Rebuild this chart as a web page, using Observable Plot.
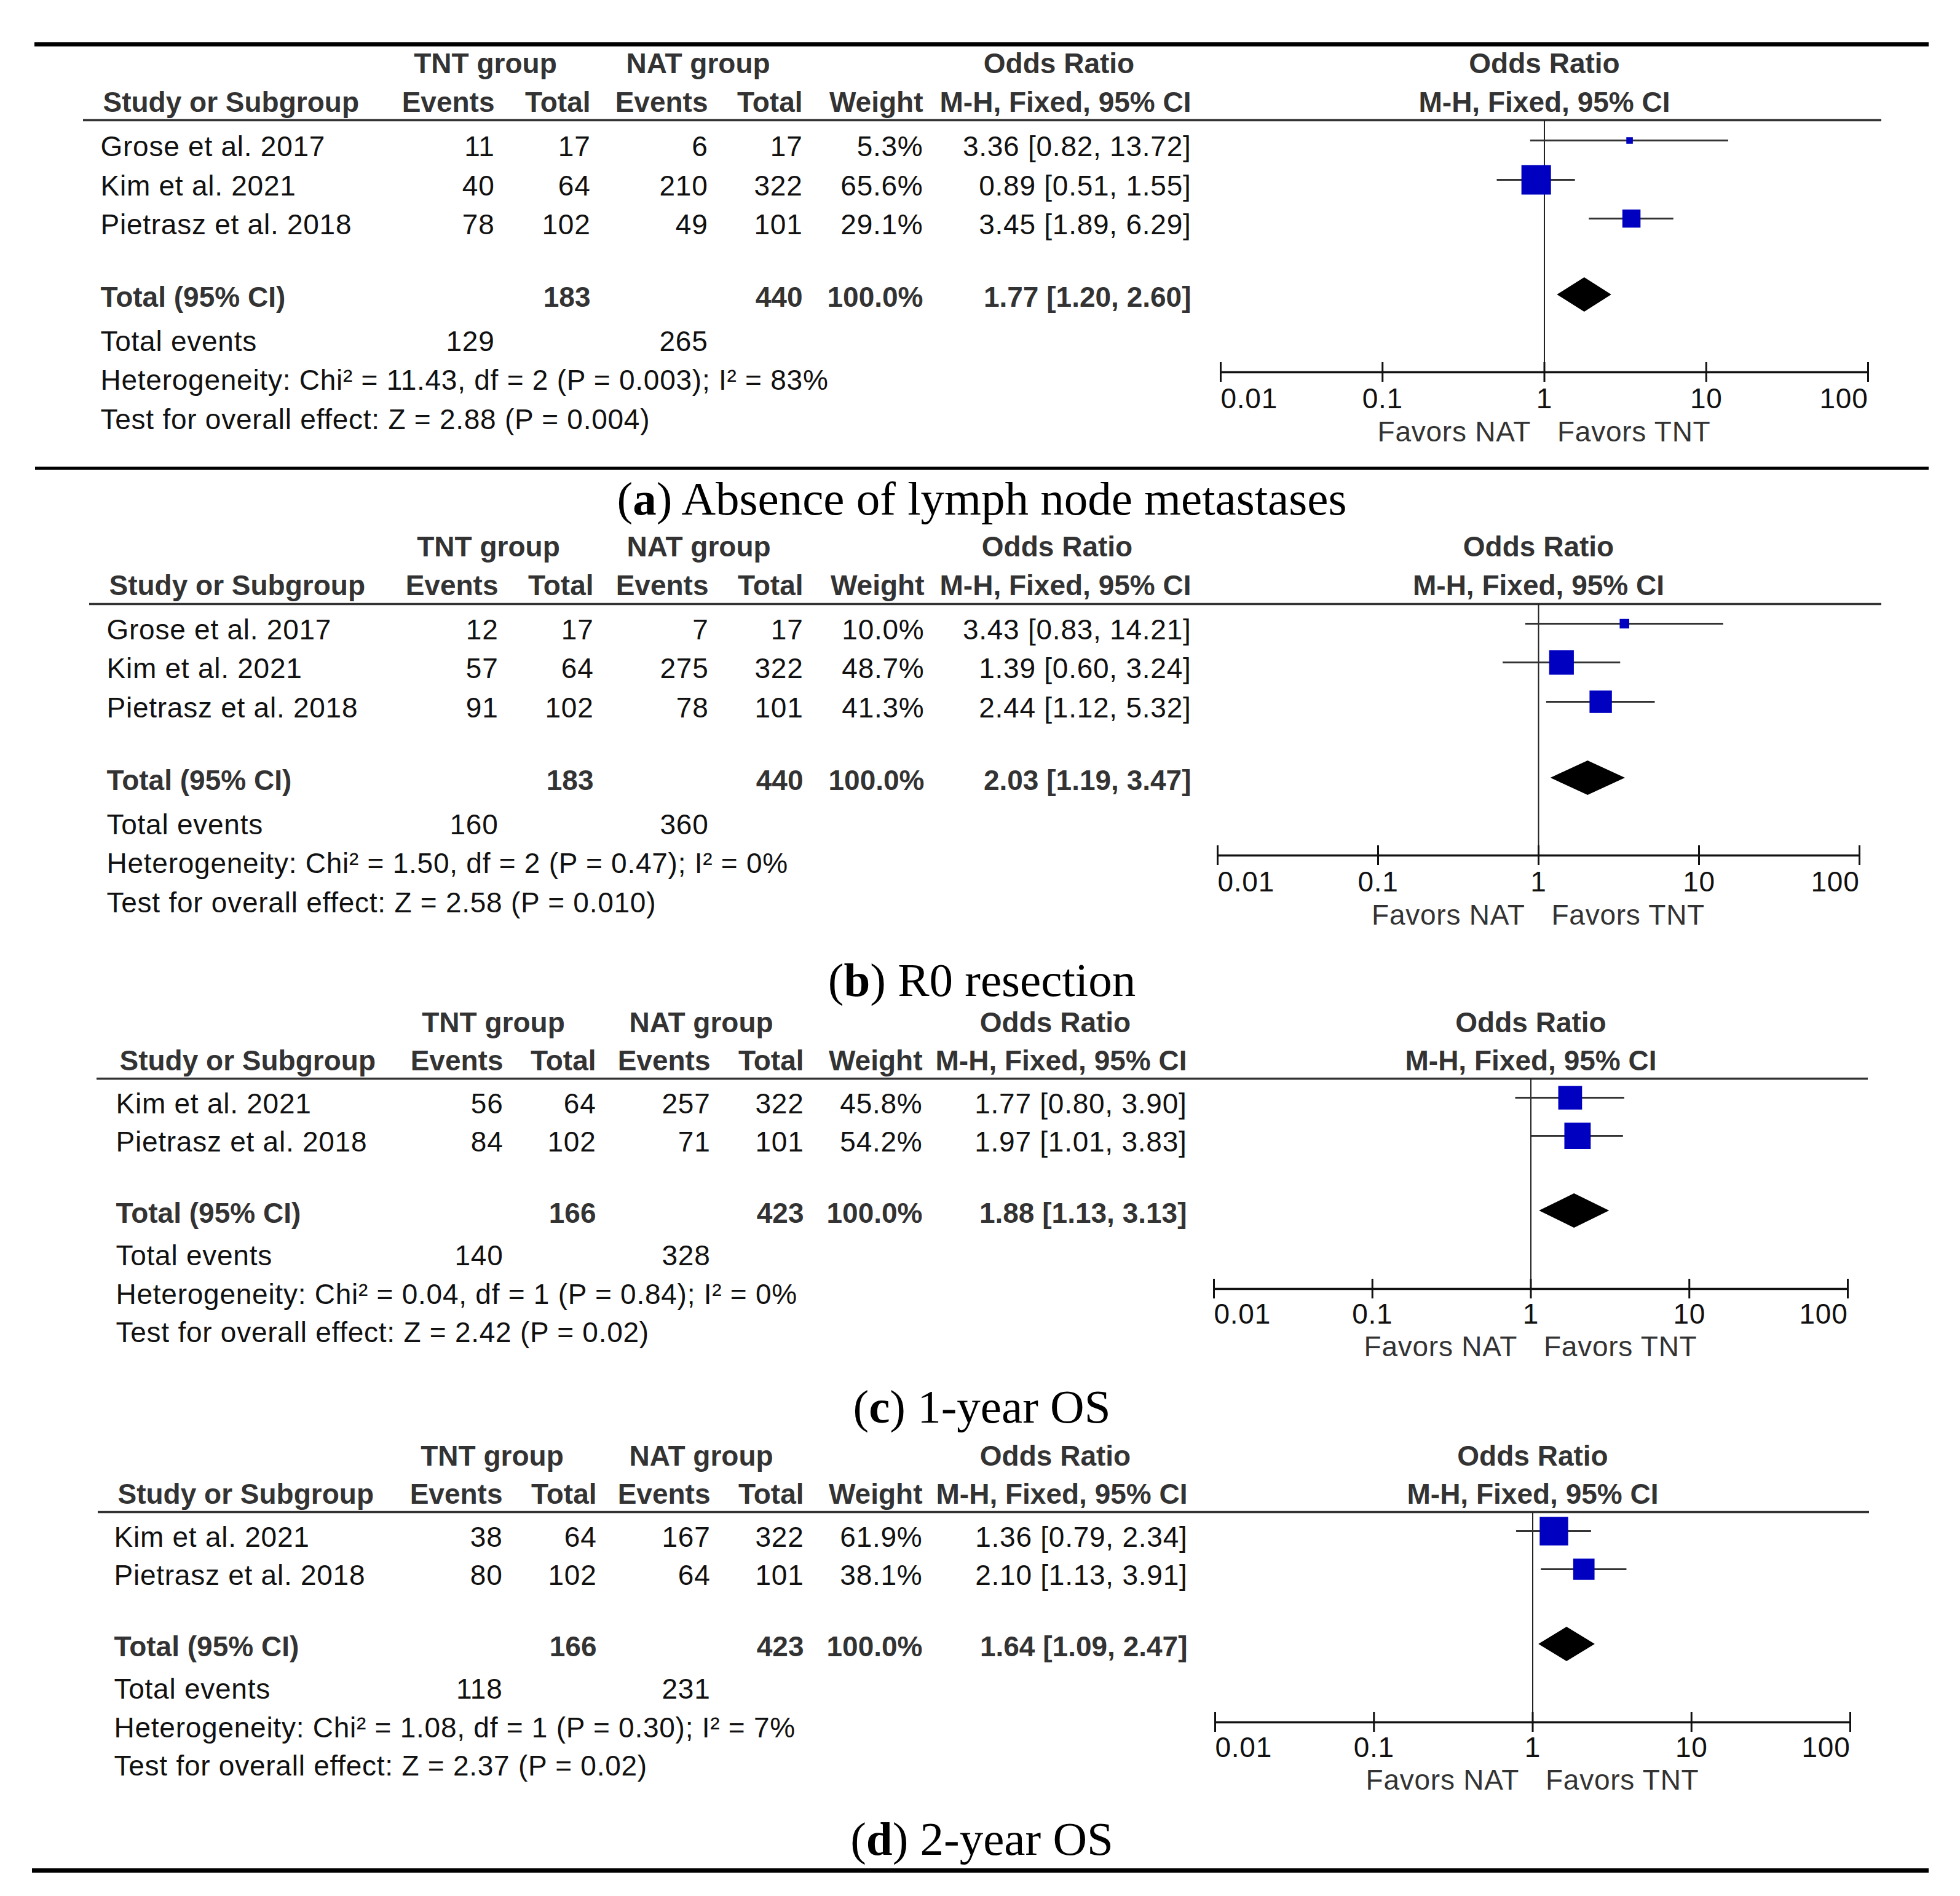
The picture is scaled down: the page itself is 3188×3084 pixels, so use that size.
<!DOCTYPE html>
<html>
<head>
<meta charset="utf-8">
<script src="https://cdn.jsdelivr.net/npm/d3@7"></script>
<script src="https://cdn.jsdelivr.net/npm/@observablehq/plot@0.6"></script>
<style>
html, body { margin: 0; padding: 0; background: #fff; }
#page { position: relative; width: 3188px; height: 3084px; background: #fff; overflow: hidden; }
#page svg { position: absolute; left: 0; overflow: visible; }
#page g[font-weight="normal"] { letter-spacing: 0.75px; }
.caption { position: absolute; left: 0; width: 3194px; text-align: center;
  font-family: "Liberation Serif", "Times New Roman", serif; font-size: 77px; line-height: 77px; color: #000; }
</style>
</head>
<body>
<div id="page"></div>
<script>
// ---------------- DATA ----------------
const panelLetters = ["a", "b", "c", "d"];
const panelTitles = ["Absence of lymph node metastases", "R0 resection", "1-year OS", "2-year OS"];
const studyNames = [
  ["Grose et al. 2017", "Kim et al. 2021", "Pietrasz et al. 2018"],
  ["Grose et al. 2017", "Kim et al. 2021", "Pietrasz et al. 2018"],
  ["Kim et al. 2021", "Pietrasz et al. 2018"],
  ["Kim et al. 2021", "Pietrasz et al. 2018"]
];
const tntEvents = [[11, 40, 78], [12, 57, 91], [56, 84], [38, 80]];
const tntTotals = [[17, 64, 102], [17, 64, 102], [64, 102], [64, 102]];
const natEvents = [[6, 210, 49], [7, 275, 78], [257, 71], [167, 64]];
const natTotals = [[17, 322, 101], [17, 322, 101], [322, 101], [322, 101]];
const weights = [[5.3, 65.6, 29.1], [10.0, 48.7, 41.3], [45.8, 54.2], [61.9, 38.1]];
const oddsRatios = [[3.36, 0.89, 3.45], [3.43, 1.39, 2.44], [1.77, 1.97], [1.36, 2.10]];
const ciLower = [[0.82, 0.51, 1.89], [0.83, 0.60, 1.12], [0.80, 1.01], [0.79, 1.13]];
const ciUpper = [[13.72, 1.55, 6.29], [14.21, 3.24, 5.32], [3.90, 3.83], [2.34, 3.91]];
const totalTnt = [183, 183, 166, 166];
const totalNat = [440, 440, 423, 423];
const totalWeight = [100.0, 100.0, 100.0, 100.0];
const pooledOR = [1.77, 2.03, 1.88, 1.64];
const pooledLower = [1.20, 1.19, 1.13, 1.09];
const pooledUpper = [2.60, 3.47, 3.13, 2.47];
const totalEventsTnt = [129, 160, 140, 118];
const totalEventsNat = [265, 360, 328, 231];
const chiSquared = ["11.43", "1.50", "0.04", "1.08"];
const degreesFreedom = [2, 2, 1, 1];
const pHeterogeneity = ["0.003", "0.47", "0.84", "0.30"];
const iSquared = [83, 0, 0, 7];
const zValues = ["2.88", "2.58", "2.42", "2.37"];
const pOverall = ["0.004", "0.010", "0.02", "0.02"];
const axisTicks = [0.01, 0.1, 1, 10, 100];
const axisTickLabels = ["0.01", "0.1", "1", "10", "100"];
const groupHeaders = ["TNT group", "NAT group", "Odds Ratio"];
const columnHeaders = ["Events", "Total", "Events", "Total", "Weight", "M-H, Fixed, 95% CI"];
const firstColumnHeader = "Study or Subgroup";
const forestHeaders = ["Odds Ratio", "M-H, Fixed, 95% CI"];
const favorLabels = ["Favors NAT", "Favors TNT"];

// ---------------- LAYOUT (page pixels) ----------------
const layouts = [
  { textX: 163, headX: 167, cols: [804, 960, 1151, 1305, 1501, 1937], groupX: [789, 1135, 1722],
    ruleX: [135, 3060], forestRange: [1985, 3038],
    yHead: [118, 181], yRule: 195, yRows: [253, 317, 380], yTotal: 498, yEvents: 570, yHet: 633, yTest: 697,
    yAxis: 605, yTickLabel: 663, yFavors: 717 },
  { textX: 173, headX: 177, cols: [810, 965, 1152, 1306, 1503, 1937], groupX: [794, 1136, 1719],
    ruleX: [145, 3060], forestRange: [1980, 3024],
    yHead: [904, 967], yRule: 982, yRows: [1039, 1102, 1166], yTotal: 1284, yEvents: 1356, yHet: 1419, yTest: 1483,
    yAxis: 1391, yTickLabel: 1449, yFavors: 1503 },
  { textX: 188, headX: 194, cols: [818, 969, 1155, 1307, 1500, 1930], groupX: [802, 1140, 1716],
    ruleX: [157, 3038], forestRange: [1974, 3005],
    yHead: [1678, 1740], yRule: 1754, yRows: [1810, 1872], yTotal: 1988, yEvents: 2057, yHet: 2120, yTest: 2182,
    yAxis: 2096, yTickLabel: 2152, yFavors: 2205 },
  { textX: 185, headX: 191, cols: [817, 970, 1155, 1307, 1500, 1931], groupX: [800, 1140, 1716],
    ruleX: [159, 3040], forestRange: [1976, 3009],
    yHead: [2383, 2445], yRule: 2459, yRows: [2515, 2577], yTotal: 2693, yEvents: 2762, yHet: 2825, yTest: 2887,
    yAxis: 2801, yTickLabel: 2857, yFavors: 2910 }
];
const captionBaselines = [837, 1620, 2314, 3017];
const pageRules = [ // y, x1, x2, thickness
  { y: 71.5, x1: 56, x2: 3137, w: 7 },
  { y: 761, x1: 57, x2: 3137, w: 5 },
  { y: 3042, x1: 52, x2: 3137, w: 7 }
];

const FONT = '"Liberation Sans", Arial, Helvetica, sans-serif';
const FS = 46;
const INK = "#111";
const HEAD = "#333";
const BOX = "#0000c0";
const BOX_LIFT = 25;
const DIAMOND_LIFT = 19;
const DIAMOND_HALF = 28;
const W = 3188, H = 3084;

const page = document.getElementById("page");

function textMarks(records) {
  const marks = [];
  for (const anchor of ["start", "middle", "end"]) {
    for (const weight of ["normal", "bold"]) {
      const data = records.filter(r => r.anchor === anchor && r.weight === weight);
      if (!data.length) continue;
      marks.push(Plot.text(data, {
        x: "x", y: "y", text: "text", textAnchor: anchor, lineAnchor: "bottom",
        fontSize: FS, fontFamily: FONT, fontWeight: weight,
        fill: weight === "bold" ? HEAD : INK
      }));
    }
  }
  return marks;
}

function frame(L) {
  const top = L.yHead[0] - 75;
  const height = L.yFavors + 45 - top;
  return { top, height };
}

// ---------- page rules ----------
const rulesPlot = Plot.plot({
  width: W, height: H, margin: 0,
  x: { type: "linear", domain: [0, W], range: [0, W], axis: null },
  y: { type: "linear", domain: [0, H], range: [0, H], axis: null },
  style: { background: "transparent" },
  marks: [
    Plot.ruleY(pageRules, { y: "y", x1: "x1", x2: "x2", strokeWidth: d => d.w, stroke: "#000" })
  ]
});
rulesPlot.style.top = "0px";
page.appendChild(rulesPlot);

// ---------- panels ----------
panelLetters.forEach((letter, i) => {
  const L = layouts[i];
  const { top, height } = frame(L);
  const rec = [];
  groupHeaders.forEach((t, k) => rec.push({ x: L.groupX[k], y: L.yHead[0], text: t, anchor: "middle", weight: "bold" }));
  rec.push({ x: L.headX, y: L.yHead[1], text: firstColumnHeader, anchor: "start", weight: "bold" });
  columnHeaders.forEach((t, k) => rec.push({ x: L.cols[k], y: L.yHead[1], text: t, anchor: "end", weight: "bold" }));
  studyNames[i].forEach((name, j) => {
    const y = L.yRows[j];
    rec.push({ x: L.textX, y, text: name, anchor: "start", weight: "normal" });
    const vals = [
      String(tntEvents[i][j]), String(tntTotals[i][j]),
      String(natEvents[i][j]), String(natTotals[i][j]),
      weights[i][j].toFixed(1) + "%",
      `${oddsRatios[i][j].toFixed(2)} [${ciLower[i][j].toFixed(2)}, ${ciUpper[i][j].toFixed(2)}]`
    ];
    vals.forEach((t, k) => rec.push({ x: L.cols[k], y, text: t, anchor: "end", weight: "normal" }));
  });
  rec.push({ x: L.textX, y: L.yTotal, text: "Total (95% CI)", anchor: "start", weight: "bold" });
  rec.push({ x: L.cols[1], y: L.yTotal, text: String(totalTnt[i]), anchor: "end", weight: "bold" });
  rec.push({ x: L.cols[3], y: L.yTotal, text: String(totalNat[i]), anchor: "end", weight: "bold" });
  rec.push({ x: L.cols[4], y: L.yTotal, text: totalWeight[i].toFixed(1) + "%", anchor: "end", weight: "bold" });
  rec.push({ x: L.cols[5], y: L.yTotal,
    text: `${pooledOR[i].toFixed(2)} [${pooledLower[i].toFixed(2)}, ${pooledUpper[i].toFixed(2)}]`, anchor: "end", weight: "bold" });
  rec.push({ x: L.textX, y: L.yEvents, text: "Total events", anchor: "start", weight: "normal" });
  rec.push({ x: L.cols[0], y: L.yEvents, text: String(totalEventsTnt[i]), anchor: "end", weight: "normal" });
  rec.push({ x: L.cols[2], y: L.yEvents, text: String(totalEventsNat[i]), anchor: "end", weight: "normal" });
  rec.push({ x: L.textX, y: L.yHet, anchor: "start", weight: "normal",
    text: `Heterogeneity: Chi\u00B2 = ${chiSquared[i]}, df = ${degreesFreedom[i]} (P = ${pHeterogeneity[i]}); I\u00B2 = ${iSquared[i]}%` });
  rec.push({ x: L.textX, y: L.yTest, anchor: "start", weight: "normal",
    text: `Test for overall effect: Z = ${zValues[i]} (P = ${pOverall[i]})` });

  const tablePlot = Plot.plot({
    width: W, height, margin: 0,
    x: { type: "linear", domain: [0, W], range: [0, W], axis: null },
    y: { type: "linear", domain: [top, top + height], range: [0, height], axis: null },
    style: { background: "transparent" },
    marks: [
      Plot.ruleY([L.yRule], { y: d => d, x1: () => L.ruleX[0], x2: () => L.ruleX[1], stroke: "#333", strokeWidth: 3.5 }),
      ...textMarks(rec)
    ]
  });
  tablePlot.style.top = top + "px";
  page.appendChild(tablePlot);

  const studies = studyNames[i].map((name, j) => ({
    name, or: oddsRatios[i][j], lo: ciLower[i][j], hi: ciUpper[i][j], w: weights[i][j], y: L.yRows[j] - BOX_LIFT
  }));
  const yD = L.yTotal - DIAMOND_LIFT;
  const diamond = [
    { x: pooledLower[i], y1: yD, y2: yD },
    { x: pooledOR[i], y1: yD - DIAMOND_HALF, y2: yD + DIAMOND_HALF },
    { x: pooledUpper[i], y1: yD, y2: yD }
  ];
  const tickData = axisTicks.map((t, k) => ({ x: t, label: axisTickLabels[k], k }));
  const last = axisTicks.length - 1;
  const tickText = (data, anchor) => Plot.text(data, {
    x: "x", y: () => L.yTickLabel, text: "label", textAnchor: anchor, lineAnchor: "bottom",
    fontSize: FS, fontFamily: FONT, fontWeight: "normal", fill: INK
  });

  const forestPlot = Plot.plot({
    width: W, height, margin: 0,
    x: { type: "log", domain: [axisTicks[0], axisTicks[last]], range: L.forestRange, axis: null },
    y: { type: "linear", domain: [top, top + height], range: [0, height], axis: null },
    r: { type: "pow", exponent: 0.6, domain: [0, 100], range: [0, 34.9] },
    style: { background: "transparent" },
    marks: [
      Plot.ruleX([1], { x: d => d, y1: () => L.yRule, y2: () => L.yAxis, stroke: "#222", strokeWidth: 2 }),
      Plot.ruleY(studies, { y: "y", x1: "lo", x2: "hi", stroke: "#333", strokeWidth: 3 }),
      Plot.dot(studies, { x: "or", y: "y", r: "w", symbol: "square", fill: BOX, stroke: "none" }),
      Plot.areaY(diamond, { x: "x", y1: "y1", y2: "y2", fill: "#000" }),
      Plot.ruleY([L.yAxis], { y: d => d, x1: () => axisTicks[0], x2: () => axisTicks[last], stroke: "#111", strokeWidth: 3.5 }),
      Plot.ruleX(axisTicks, { x: d => d, y1: () => L.yAxis - 16, y2: () => L.yAxis + 16, stroke: "#111", strokeWidth: 3 }),
      tickText(tickData.filter(d => d.k === 0), "start"),
      tickText(tickData.filter(d => d.k > 0 && d.k < last), "middle"),
      tickText(tickData.filter(d => d.k === last), "end"),
      Plot.text(forestHeaders.map((t, k) => ({ t, y: L.yHead[k] })), {
        x: () => 1, y: "y", text: "t", textAnchor: "middle", lineAnchor: "bottom",
        fontSize: FS, fontFamily: FONT, fontWeight: "bold", fill: HEAD
      }),
      Plot.text([favorLabels[0]], { x: () => 1, y: () => L.yFavors, text: d => d, textAnchor: "end", dx: -22,
        lineAnchor: "bottom", fontSize: FS, fontFamily: FONT, fontWeight: "normal", fill: HEAD }),
      Plot.text([favorLabels[1]], { x: () => 1, y: () => L.yFavors, text: d => d, textAnchor: "start", dx: 21,
        lineAnchor: "bottom", fontSize: FS, fontFamily: FONT, fontWeight: "normal", fill: HEAD })
    ]
  });
  forestPlot.style.top = top + "px";
  page.appendChild(forestPlot);

  const cap = document.createElement("div");
  cap.className = "caption";
  cap.style.top = (captionBaselines[i] - 64.5) + "px";
  cap.innerHTML = `(<b>${letter}</b>) ${panelTitles[i]}`;
  page.appendChild(cap);
});
</script>
</body>
</html>
